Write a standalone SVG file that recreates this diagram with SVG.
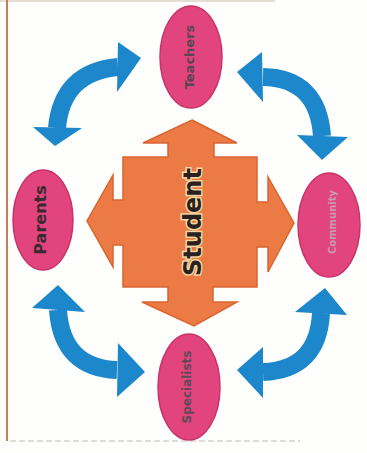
<svg xmlns="http://www.w3.org/2000/svg" width="367" height="453" viewBox="0 0 367 453">
<style>
.node{fill:#e2447e;stroke:#c9336b;stroke-width:1.5}
.lbl{font-family:"DejaVu Sans",sans-serif;font-weight:bold;text-anchor:middle;dominant-baseline:central}
.arc{fill:none;stroke:#1d87cc;stroke-width:18}
.head{fill:#1d87cc}
</style>
<rect width="367" height="453" fill="#fefefd"/>
<line x1="0" y1="1" x2="275" y2="1" stroke="#e6ded4" stroke-width="2"/>
<line x1="7" y1="0" x2="7" y2="441" stroke="#c97a62" stroke-width="2"/>
<line x1="10" y1="441" x2="300" y2="441" stroke="#d4d0cc" stroke-width="1.5" stroke-dasharray="6 3"/>
<g id="connectors">
<path class="arc" d="M57,128 Q62,72 118,67"/>
<polygon class="head" points="33,127 82,128 55,146"/>
<polygon class="head" points="118,42 117,92 141,58"/>
<path class="arc" d="M263,77 Q318,78 322,136"/>
<polygon class="head" points="262,52 263,102 237,72"/>
<polygon class="head" points="297,135 348,137 322,160"/>
<path class="arc" d="M58,310 Q62,368 117,370"/>
<polygon class="head" points="32,308 85,312 58,285"/>
<polygon class="head" points="118,343 117,397 145,372"/>
<path class="arc" d="M321,313 Q318,370 263,372"/>
<polygon class="head" points="295,312 347,315 325,288"/>
<polygon class="head" points="263,347 263,398 237,370"/>
</g>
<g id="student">
<polygon fill="#ec7a44" stroke="#d9642f" stroke-width="1.5" points="192,120 237,143 214,143 214,157 257,157 257,202 268,202 268,177 294,223 268,272 268,247 257,247 257,287 213,287 213,302 237,302 194,326 142,302 168,302 168,287 123,287 123,245 113,245 113,267 87,221 113,175 113,200 123,200 123,157 168,157 168,143 143,143"/>
<text class="lbl" x="193" y="222" font-size="24" fill="#2a2020" stroke="#f2d9a4" stroke-width="3" paint-order="stroke" transform="rotate(-90 193 222)">Student</text>
</g>
<g id="teachers">
<ellipse class="node" cx="191" cy="57" rx="31" ry="51"/>
<text class="lbl" x="189" y="57" font-size="13" fill="#5a4650" transform="rotate(-90 189 57)">Teachers</text>
</g>
<g id="parents">
<ellipse class="node" cx="43" cy="220" rx="30" ry="50"/>
<text class="lbl" x="40" y="220" font-size="16" fill="#3a2a30" transform="rotate(-90 40 220)">Parents</text>
</g>
<g id="community">
<ellipse class="node" cx="329" cy="225" rx="31" ry="52"/>
<text class="lbl" x="332" y="222" font-size="10" fill="#c89aae" transform="rotate(-90 332 222)">Community</text>
</g>
<g id="specialists">
<ellipse class="node" cx="189" cy="387" rx="31" ry="53"/>
<text class="lbl" x="187" y="387" font-size="12" fill="#5e4a54" transform="rotate(-90 187 387)">Specialists</text>
</g>
</svg>
